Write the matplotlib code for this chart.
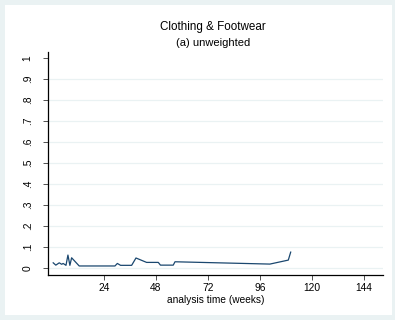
import numpy as np
import matplotlib.pyplot as plt
from matplotlib.patches import Rectangle

plt.rcParams["font.family"] = ["Liberation Sans", "DejaVu Sans"]

# survival-type curve (weeks, value)
weeks = [0.6, 1.8, 3.4, 4.5, 5.2, 6.5, 7.4, 8.3, 9.1, 12.6, 29.1, 30.2, 31.7,
         36.8, 38.8, 43.7, 49.1, 50.1, 56.0, 56.8, 100.6, 109.1, 110.2]
values = [0.025, 0.014, 0.025, 0.018, 0.022, 0.013, 0.062, 0.013, 0.049, 0.010,
          0.010, 0.022, 0.013, 0.013, 0.048, 0.027, 0.027, 0.014, 0.014, 0.030,
          0.019, 0.038, 0.076]

x_ticks = [24, 48, 72, 96, 120, 144]
y_ticks = [0, 0.1, 0.2, 0.3, 0.4, 0.5, 0.6, 0.7, 0.8, 0.9, 1.0]
y_labels = ["0", ".1", ".2", ".3", ".4", ".5", ".6", ".7", ".8", ".9", "1"]

W, H = 395, 320
fig = plt.figure(figsize=(W / 100, H / 100), dpi=100, facecolor="#eaf2f3")
# white inner graph region
fig.patches.append(Rectangle((5 / W, 5 / H), (392 - 5) / W, (315 - 5) / H,
                             transform=fig.transFigure, facecolor="white",
                             edgecolor="none", zorder=-10))

ax = fig.add_axes([48 / W, (H - 275) / H, (383 - 48) / W, (275 - 52) / H])
ax.set_zorder(5)
ax.set_facecolor("white")

for y in y_ticks[:-1]:
    ax.axhline(y, color="#eaf2f3", lw=0.9, zorder=0)

ax.plot(weeks, values, color="#1a476f", lw=0.9)

ax.set_xlim(-1.8, 152.8)
ax.set_ylim(-0.033, 1.029)
ax.set_xticks(x_ticks)
ax.set_xticklabels([str(t) for t in x_ticks], fontsize=7.4)
ax.set_yticks(y_ticks)
ax.set_yticklabels(y_labels, fontsize=7.4, rotation=90, va="center")
ax.tick_params(length=3.5, width=0.6, color="#333333")
ax.tick_params(axis="x", pad=2.5)
ax.tick_params(axis="y", pad=7.5)

for side in ["top", "right"]:
    ax.spines[side].set_visible(False)
for side in ["left", "bottom"]:
    ax.spines[side].set_linewidth(0.9)
    ax.spines[side].set_color("black")

ax.set_xlabel("analysis time (weeks)", fontsize=7.3, labelpad=1)

fig.text(213 / W, 1 - 27 / H, "Clothing & Footwear", ha="center", va="center",
         fontsize=8.4)
fig.text(213 / W, 1 - 43 / H, "(a) unweighted", ha="center", va="center",
         fontsize=8.0)

fig.savefig("out.png", dpi=100, facecolor=fig.get_facecolor())
